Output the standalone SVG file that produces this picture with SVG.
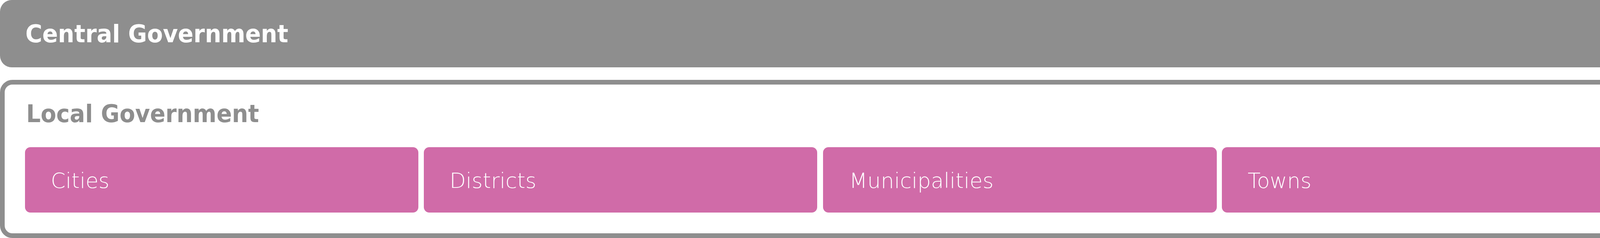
<svg xmlns="http://www.w3.org/2000/svg" width="4200" height="608" viewBox="0 0 4200 608">
<style>
.title{font-family:"DejaVu Sans","Liberation Sans",sans-serif;font-weight:bold;font-size:62px}
.lbl{font-family:"DejaVu Sans","Liberation Sans",sans-serif;font-weight:200;font-size:54px;fill:#ffffff}
.item{fill:#d06ba8}
</style>
<rect width="4200" height="608" fill="#ffffff"/>
<g id="central">
<rect x="0" y="0" width="4200" height="172" rx="30" ry="30" fill="#8e8e8e"/>
<text class="title" x="65" y="108" fill="#ffffff" textLength="673" lengthAdjust="spacingAndGlyphs">Central Government</text>
</g>
<g id="local">
<rect x="6" y="210" width="4188" height="392" rx="26" ry="26" fill="#ffffff" stroke="#8e8e8e" stroke-width="12"/>
<text class="title" x="67" y="312" fill="#8e8e8e" textLength="596" lengthAdjust="spacingAndGlyphs">Local Government</text>
</g>
<g id="cities">
<rect class="item" x="64" y="376" width="1007" height="167" rx="14" ry="14"/>
<text class="lbl" x="130" y="480">Cities</text>
</g>
<g id="districts">
<rect class="item" x="1085" y="376" width="1007" height="167" rx="14" ry="14"/>
<text class="lbl" x="1151" y="480">Districts</text>
</g>
<g id="municipalities">
<rect class="item" x="2107" y="376" width="1008" height="167" rx="14" ry="14"/>
<text class="lbl" x="2174" y="480">Municipalities</text>
</g>
<g id="towns">
<rect class="item" x="3128" y="376" width="1007" height="167" rx="14" ry="14"/>
<text class="lbl" x="3194" y="480">Towns</text>
</g>
<g id="connectors"></g>
</svg>
